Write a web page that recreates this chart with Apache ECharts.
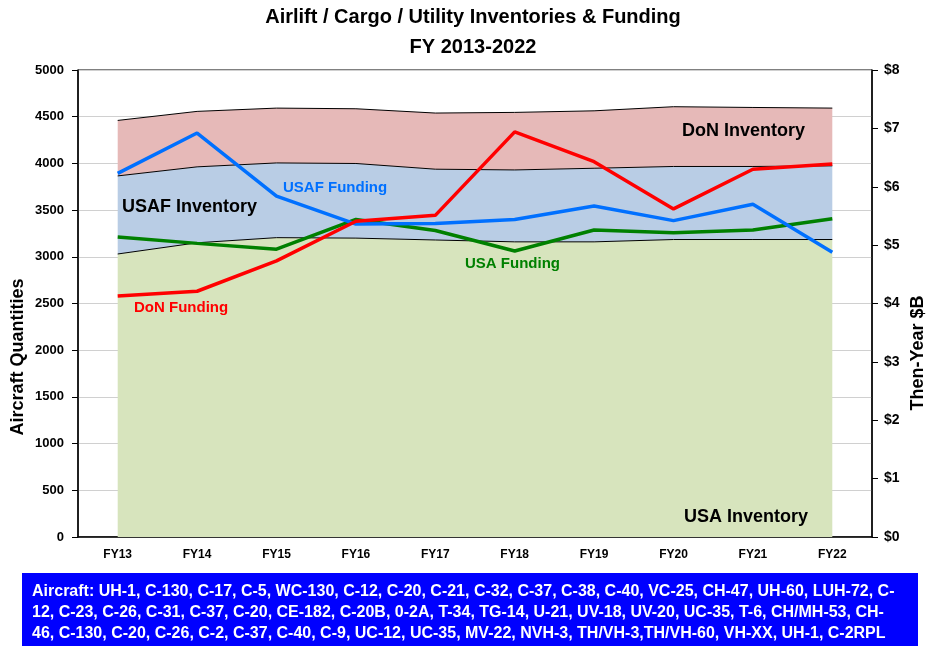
<!DOCTYPE html>
<html>
<head>
<meta charset="utf-8">
<script src="https://cdn.jsdelivr.net/npm/echarts@6/dist/echarts.min.js"></script>
<style>
  html, body { margin: 0; padding: 0; background: #fff; }
  #chart { width: 928px; height: 646px; }
</style>
</head>
<body>
<div id="chart"></div>
<script>
// categories
var years = ['FY13', 'FY14', 'FY15', 'FY16', 'FY17', 'FY18', 'FY19', 'FY20', 'FY21', 'FY22']

// inventories (aircraft quantities, stacked)
var usaInventory = [3030, 3150, 3205, 3200, 3180, 3160, 3160, 3185, 3185, 3185]
var usafInventory = [836, 813, 800, 799, 758, 770, 788, 782, 782, 789]
var donInventory = [594, 594, 587, 586, 601, 616, 615, 640, 632, 618]

// funding (then-year $B)
var usaFunding = [5.14, 5.03, 4.93, 5.44, 5.25, 4.90, 5.26, 5.21, 5.26, 5.45]
var usafFunding = [6.23, 6.92, 5.84, 5.36, 5.37, 5.44, 5.67, 5.42, 5.70, 4.88]
var donFunding = [4.13, 4.21, 4.73, 5.41, 5.51, 6.94, 6.43, 5.62, 6.30, 6.39]

var aircraftLines = [
  'Aircraft: UH-1, C-130, C-17, C-5, WC-130, C-12, C-20, C-21, C-32, C-37, C-38, C-40, VC-25, CH-47, UH-60, LUH-72, C-',
  '12, C-23, C-26, C-31, C-37, C-20, CE-182, C-20B, 0-2A, T-34, TG-14, U-21, UV-18, UV-20, UC-35, T-6, CH/MH-53, CH-',
  '46, C-130, C-20, C-26, C-2, C-37, C-40, C-9, UC-12, UC-35, MV-22, NVH-3, TH/VH-3,TH/VH-60, VH-XX, UH-1, C-2RPL'
]

var font = '"Liberation Sans Narrow", "Liberation Sans", sans-serif'
var chart = echarts.init(document.getElementById('chart'))

// 面积图系列
function areaSeries (name, data, color) {
  return {
    name: name,
    type: 'line',
    stack: 'inv',
    yAxisIndex: 0,
    data: data,
    showSymbol: false,
    symbol: 'none',
    lineStyle: { color: '#000', width: 1 },
    areaStyle: { color: color, opacity: 1 },
    z: 2
  }
}

// 折线系列
function fundSeries (name, data, color) {
  return {
    name: name,
    type: 'line',
    yAxisIndex: 1,
    data: data,
    symbol: 'none',
    lineStyle: { color: color, width: 3.5 },
    z: 5
  }
}

function label (text, x, y, color, size) {
  return {
    type: 'text',
    left: x,
    top: y,
    style: { text: text, fill: color, font: 'bold ' + size + 'px ' + font },
    z: 10
  }
}

chart.setOption({
  animation: false,
  textStyle: { fontFamily: font },
  grid: {
    left: 78, right: 56, top: 70, bottom: 109,
    show: true, borderColor: '#000', borderWidth: 1
  },
  xAxis: {
    type: 'category',
    data: years,
    boundaryGap: true,
    axisLine: { lineStyle: { color: '#000', width: 1.5 } },
    axisTick: { lineStyle: { color: '#000' }, length: 5 },
    axisLabel: { color: '#000', fontWeight: 'bold', fontSize: 12, margin: 12, fontFamily: font }
  },
  yAxis: [
    {
      type: 'value',
      min: 0, max: 5000, interval: 500,
      axisLine: { show: true, lineStyle: { color: '#000', width: 1.5 } },
      axisTick: { show: true, length: 6, lineStyle: { color: '#000' } },
      axisLabel: { color: '#000', fontWeight: 'bold', fontSize: 13, margin: 14, fontFamily: font, formatter: function (v) { return String(v) } },
      splitLine: { lineStyle: { color: '#d0d0d0', width: 1 } }
    },
    {
      type: 'value',
      min: 0, max: 8, interval: 1,
      position: 'right',
      axisLine: { show: true, lineStyle: { color: '#000', width: 1.5 } },
      axisTick: { show: true, length: 6, lineStyle: { color: '#000' } },
      axisLabel: { color: '#000', fontWeight: 'bold', fontSize: 14, margin: 12, fontFamily: font, formatter: function (v) { return '$' + v } },
      splitLine: { show: false }
    }
  ],
  series: [
    areaSeries('USA Inventory', usaInventory, '#D7E4BD'),
    areaSeries('USAF Inventory', usafInventory, '#B9CDE5'),
    areaSeries('DoN Inventory', donInventory, '#E6B9B8'),
    fundSeries('USA Funding', usaFunding, '#008000'),
    fundSeries('USAF Funding', usafFunding, '#0070FF'),
    fundSeries('DoN Funding', donFunding, '#FF0000')
  ],
  graphic: [
    {
      type: 'text', x: 473, y: 17,
      style: { text: 'Airlift / Cargo / Utility Inventories & Funding', fill: '#000', font: 'bold 20px ' + font, align: 'center', verticalAlign: 'middle' }
    },
    {
      type: 'text', x: 473, y: 47,
      style: { text: 'FY 2013-2022', fill: '#000', font: 'bold 20px ' + font, align: 'center', verticalAlign: 'middle' }
    },
    {
      type: 'text', x: 18, y: 357, rotation: Math.PI / 2,
      style: { text: 'Aircraft Quantities', fill: '#000', font: 'bold 18px ' + font, align: 'center', verticalAlign: 'middle' }
    },
    {
      type: 'text', x: 918, y: 353, rotation: Math.PI / 2,
      style: { text: 'Then-Year $B', fill: '#000', font: 'bold 18px ' + font, align: 'center', verticalAlign: 'middle' }
    },
    label('DoN Inventory', 682, 122, '#000', 18),
    label('USAF Inventory', 122, 198, '#000', 18),
    label('USA Inventory', 684, 508, '#000', 18),
    label('USAF Funding', 283, 180, '#0070FF', 15),
    label('USA Funding', 465, 256, '#008000', 15),
    label('DoN Funding', 134, 300, '#FF0000', 15),
    {
      type: 'rect', left: 22, top: 573,
      shape: { width: 896, height: 73 },
      style: { fill: '#0000FF' }
    },
    {
      type: 'text', left: 32, top: 581,
      style: { text: aircraftLines.join('\n'), fill: '#fff', font: 'bold 16px ' + font, lineHeight: 21 },
      z: 10
    }
  ]
})
</script>
</body>
</html>
